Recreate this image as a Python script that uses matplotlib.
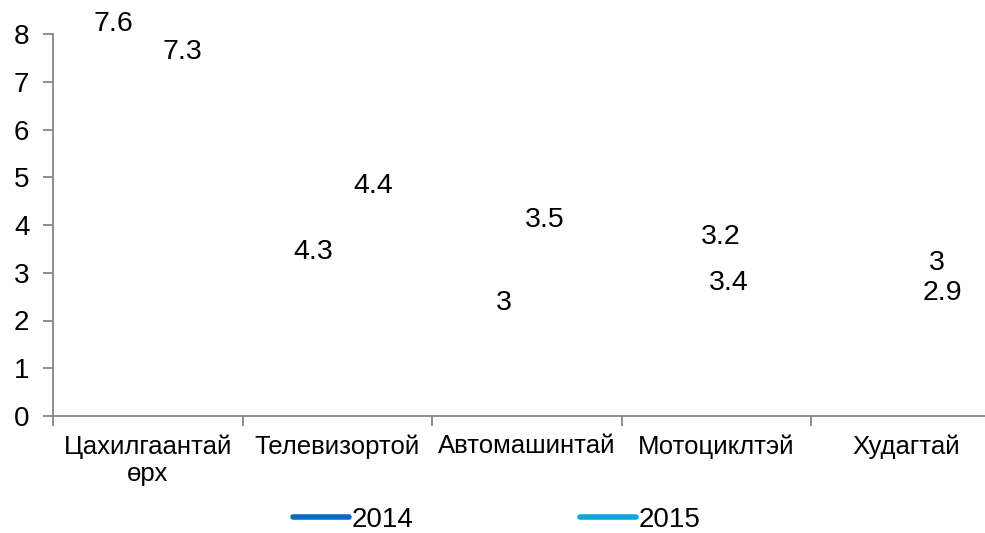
import matplotlib
matplotlib.use("Agg")
import matplotlib.pyplot as plt
from matplotlib.lines import Line2D

plt.rcParams['font.family'] = ['Liberation Sans', 'DejaVu Sans']

categories = ["Цахилгаантай\nөрх", "Телевизортой", "Автомашинтай", "Мотоциклтэй", "Худагтай"]
series_names = ["2014", "2015"]
values_2014 = [7.6, 4.3, 3, 3.2, 3]
values_2015 = [7.3, 4.4, 3.5, 3.4, 2.9]
yticks = [0, 1, 2, 3, 4, 5, 6, 7, 8]

# label placement offsets (category units, data units) as seen in the reference
dx_2014 = [-0.18, -0.13, -0.12, 0.02, 0.16]
dy_2014 = [0.61, -0.87, -0.63, 0.55, 0.20]
dx_2015 = [0.18, 0.19, 0.095, 0.063, 0.19]
dy_2015 = [0.32, 0.42, 0.60, -0.61, -0.32]

colors = ["#0A6BC6", "#0CA6DF"]

fig = plt.figure(figsize=(9.85, 5.33), dpi=100)
ax = fig.add_axes([53/985, 1-416/533, (1001-53)/985, (416-34)/533])

x = list(range(len(categories)))
for vals, c, name in [(values_2014, colors[0], series_names[0]), (values_2015, colors[1], series_names[1])]:
    ax.plot(x, vals, color=c, lw=0)

for vals, dxs, dys in [(values_2014, dx_2014, dy_2014), (values_2015, dx_2015, dy_2015)]:
    for xi, v, dx, dy in zip(x, vals, dxs, dys):
        ax.text(xi + dx, v + dy, f"{v:g}", ha='center', va='center', fontsize=20.5, color='black')

ax.set_xlim(-0.5, len(categories) - 0.5)
ax.set_ylim(0, 8)
ax.set_yticks(yticks)
ax.set_yticklabels([str(t) for t in yticks], fontsize=20)
ax.set_xticks([i - 0.5 for i in range(len(categories) + 1)])
ax.set_xticklabels([])
ax.set_xticks(x, minor=True)
ax.set_xticklabels(categories, minor=True, fontsize=18.5, linespacing=1.2)
ax.tick_params(axis='x', which='minor', length=0, pad=13)
ax.tick_params(axis='x', which='major', length=7, color='#868686', width=1.3, direction='out')
ax.tick_params(axis='y', length=7, color='#868686', width=1.3, direction='out', pad=10)

for s in ['top', 'right']:
    ax.spines[s].set_visible(False)
for s in ['left', 'bottom']:
    ax.spines[s].set_color('#868686')
    ax.spines[s].set_linewidth(1.3)

handles = [Line2D([], [], color=colors[0], lw=4, solid_capstyle='round'),
           Line2D([], [], color=colors[1], lw=4, solid_capstyle='round')]
fig.legend(handles, series_names, ncol=2, loc='center', bbox_to_anchor=(497/985, 1-520/533),
           frameon=False, fontsize=20, handlelength=2.0, handletextpad=0.1, columnspacing=6.0,
           borderpad=0.2)

fig.savefig("out.png", dpi=100)
